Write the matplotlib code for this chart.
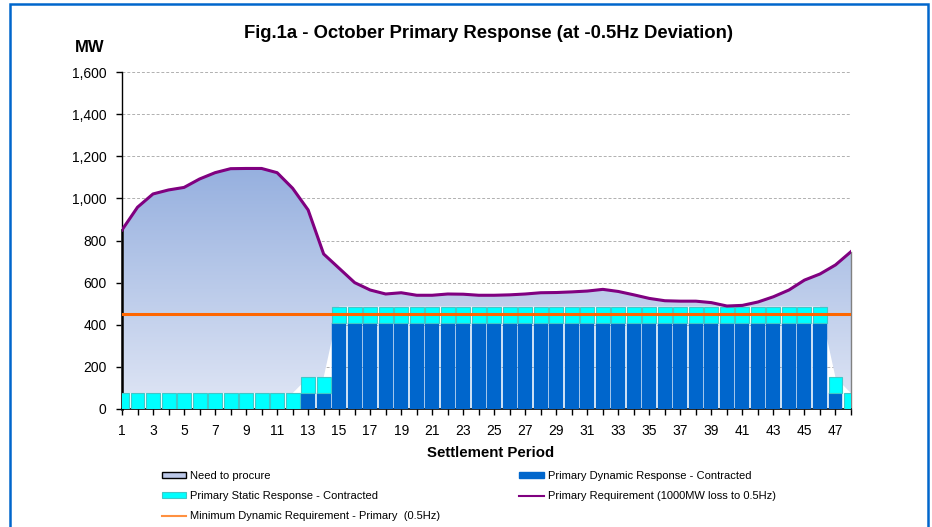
import numpy as np
import matplotlib
matplotlib.use('Agg')
import matplotlib.pyplot as plt
from matplotlib.patches import Patch, Rectangle, Polygon
from matplotlib.lines import Line2D
from matplotlib.ticker import FuncFormatter

plt.rcParams['font.family'] = ['Liberation Sans', 'DejaVu Sans']

periods = list(range(1, 49))

requirement = [850, 958, 1021, 1040, 1052, 1092, 1122, 1141, 1142, 1142, 1122, 1048,
               945, 736, 668, 600, 565, 546, 552, 540, 540, 546, 545, 540,
               540, 542, 546, 552, 553, 556, 560, 568, 558, 542, 525, 514,
               512, 512, 505, 489, 492, 508, 533, 565, 612, 641, 684, 747]

dynamic = [0] * 12 + [75, 75] + [410] * 32 + [75, 0]
static = [75] * 14 + [76] * 32 + [75] * 2

min_dynamic = 450

x = np.array(periods)
req = np.array(requirement)
dyn = np.array(dynamic)
sta = np.array(static)
contracted = dyn + sta

fig = plt.figure(figsize=(9.32, 5.27), dpi=100)
ax = fig.add_axes([122 / 932, 1 - 409 / 527, (851 - 122) / 932, (409 - 72) / 527])

# need to procure: gradient area between contracted and requirement
poly_pts = np.vstack([np.column_stack([x, req]), np.column_stack([x[::-1], contracted[::-1]])])
grad = np.linspace(0, 1, 256).reshape(-1, 1)
top_c = np.array([150, 176, 223]) / 255
bot_c = np.array([224, 230, 245]) / 255
img = top_c * grad[..., None] + bot_c * (1 - grad[..., None])
im = ax.imshow(img, extent=[1, 48, 0, req.max()], origin='lower', aspect='auto', zorder=1)
clip = Polygon(poly_pts, closed=True, transform=ax.transData)
im.set_clip_path(clip)
# area border (top and ends)
ax.plot(x, req, color='black', lw=1.0, zorder=2)
ax.plot([1, 1], [0, req[0]], color='#303030', lw=2.0, zorder=2, clip_on=False)
ax.plot([48, 48], [0, req[-1]], color='#808080', lw=1.0, zorder=2, clip_on=False)

ax.bar(x, dyn, width=0.9, color='#0066cc', edgecolor='#0066cc', lw=0.3, zorder=3)
ax.bar(x, sta, width=0.9, bottom=dyn, color='#00ffff', edgecolor='#40c8c8', lw=0.8, zorder=3)

ax.axhline(min_dynamic, color='#ff6600', lw=2.2, zorder=4)
ax.plot(x, req, color='#800080', lw=2.2, zorder=5)

ax.set_xlim(1, 48)
ax.set_ylim(0, 1600)
ax.set_yticks(range(0, 1601, 200))
ax.yaxis.set_major_formatter(FuncFormatter(lambda v, p: f'{int(v):,}'))
ax.set_xticks(periods)
ax.set_xticklabels([str(p) if p % 2 == 1 else '' for p in periods])
ax.tick_params(axis='both', direction='out', length=4, width=1, labelsize=10, colors='black')
ax.tick_params(axis='y', pad=7)
ax.tick_params(axis='x', pad=7)
ax.grid(axis='y', color='#b0b0b0', ls=(0, (3, 2)), lw=0.7, zorder=0)
ax.set_axisbelow(True)
for s in ['top', 'right']:
    ax.spines[s].set_visible(False)
ax.spines['left'].set_linewidth(1.0)
ax.spines['bottom'].set_linewidth(1.2)

fig.text(491 / 932, 1 - 453 / 527, 'Settlement Period', ha='center', va='center',
         fontsize=10.8, fontweight='bold')
fig.text(489 / 932, 1 - 34 / 527, 'Fig.1a - October Primary Response (at -0.5Hz Deviation)',
         ha='center', va='center', fontsize=13.3, fontweight='bold')
fig.text(90 / 932, 1 - 47 / 527, 'MW', ha='center', va='center', fontsize=12, fontweight='bold')

handles = [
    Patch(facecolor='#bcc8e8', edgecolor='black', lw=1.0),
    Patch(facecolor='#00ffff', edgecolor='#40c8c8', lw=0.8),
    Line2D([0], [0], color='#ff9040', lw=1.5),
    Patch(facecolor='#0066cc', edgecolor='#0066cc'),
    Line2D([0], [0], color='#800080', lw=1.5),
]
labels = ['Need to procure', 'Primary Static Response - Contracted',
          'Minimum Dynamic Requirement - Primary  (0.5Hz)',
          'Primary Dynamic Response - Contracted', 'Primary Requirement (1000MW loss to 0.5Hz)']
fig.legend(handles, labels, ncol=2, loc='upper left', bbox_to_anchor=(156 / 932, 1 - 465.5 / 527),
           frameon=False, fontsize=8, handlelength=2.2, handleheight=0.5, handletextpad=0.35,
           columnspacing=7.15, labelspacing=0.9, borderpad=0)

# outer frame
fig.patches.append(Rectangle((9.5 / 932, -0.05), (928 - 9.5) / 932, 1.05 - 3.5 / 527,
                             transform=fig.transFigure, fill=False, edgecolor='#0066cc', lw=1.8))

fig.savefig('out.png', dpi=100)
